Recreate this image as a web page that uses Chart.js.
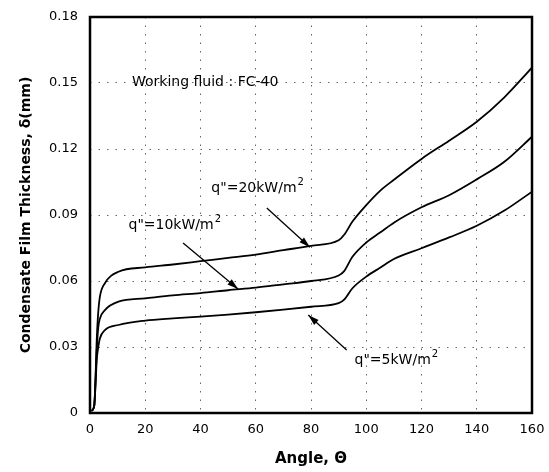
<!DOCTYPE html>
<html>
<head>
<meta charset="utf-8">
<script src="https://cdn.jsdelivr.net/npm/chart.js@4"></script>
<style>
  html, body { margin: 0; padding: 0; background: #fff; }
  #wrap { width: 549px; height: 472px; }
</style>
</head>
<body>
<div id="wrap"><canvas id="filmChart" width="549" height="472"></canvas></div>
<script>
const angles = [0.5, 1.5, 2.5, 3, 3.6, 5.4, 10.3, 20, 30, 40, 50, 60, 70, 80, 90, 92, 95, 100, 105, 110, 120, 130, 140, 150, 160];
const q20 = [0.001, 0.003, 0.035, 0.046, 0.053, 0.059, 0.0642, 0.0662, 0.0675, 0.069, 0.0705, 0.072, 0.074, 0.076, 0.0785, 0.081, 0.087, 0.0945, 0.101, 0.106, 0.1155, 0.1238, 0.1324, 0.1435, 0.157];
const q10 = [0.001, 0.003, 0.03, 0.039, 0.043, 0.0468, 0.0506, 0.0521, 0.0535, 0.0545, 0.0558, 0.057, 0.0585, 0.060, 0.0625, 0.0645, 0.071, 0.0775, 0.082, 0.0865, 0.0935, 0.099, 0.1062, 0.1142, 0.1256];
const q5 = [0.001, 0.003, 0.025, 0.030, 0.034, 0.0377, 0.040, 0.042, 0.043, 0.0438, 0.0447, 0.0458, 0.047, 0.0483, 0.0499, 0.0515, 0.0567, 0.062, 0.066, 0.070, 0.0749, 0.0798, 0.0851, 0.092, 0.1006];
const xTicks = [0, 20, 40, 60, 80, 100, 120, 140, 160];
const yTicks = [0, 0.03, 0.06, 0.09, 0.12, 0.15, 0.18];

const pts = ys => angles.map((a, i) => ({ x: a, y: ys[i] }));

const font = '"DejaVu Sans", sans-serif';

// labels + arrows, positions in data units
const notes = [
  { text: 'q"=20kW/m', x: 60.8, y: 0.1023, from: [64, 0.0932], to: [79.6, 0.0753] },
  { text: 'q"=10kW/m', x: 30.8, y: 0.0852, from: [33.7, 0.0773], to: [53.6, 0.0564] },
  { text: 'q"=5kW/m', x: 111, y: 0.0241, from: [92.9, 0.0286], to: [79, 0.0445] }
];

const extras = {
  id: 'extras',
  afterDatasetsDraw(chart) {
    const { ctx, chartArea: a, scales: { x, y } } = chart;
    ctx.save();
    // frame
    ctx.strokeStyle = '#000';
    ctx.lineWidth = 2.5;
    ctx.strokeRect(a.left, a.top, a.right - a.left, a.bottom - a.top);

    ctx.fillStyle = '#000';
    ctx.textBaseline = 'middle';
    ctx.font = '14px ' + font;
    ctx.textAlign = 'left';
    ctx.fillText('Working fluid : FC-40', x.getPixelForValue(15.2), y.getPixelForValue(0.1505));

    notes.forEach(n => {
      ctx.font = '14px ' + font;
      const w = ctx.measureText(n.text).width;
      const cx = x.getPixelForValue(n.x), cy = y.getPixelForValue(n.y);
      ctx.textAlign = 'left';
      ctx.fillText(n.text, cx - w / 2 - 4, cy);
      ctx.font = '10px ' + font;
      ctx.fillText('2', cx + w / 2 - 3, cy - 6);

      const x1 = x.getPixelForValue(n.from[0]), y1 = y.getPixelForValue(n.from[1]);
      const x2 = x.getPixelForValue(n.to[0]), y2 = y.getPixelForValue(n.to[1]);
      ctx.lineWidth = 1.3;
      ctx.beginPath();
      ctx.moveTo(x1, y1);
      ctx.lineTo(x2, y2);
      ctx.stroke();
      const ang = Math.atan2(y2 - y1, x2 - x1);
      const L = 11, W = 3.3;
      ctx.beginPath();
      ctx.moveTo(x2, y2);
      ctx.lineTo(x2 - L * Math.cos(ang) + W * Math.sin(ang), y2 - L * Math.sin(ang) - W * Math.cos(ang));
      ctx.lineTo(x2 - L * Math.cos(ang) - W * Math.sin(ang), y2 - L * Math.sin(ang) + W * Math.cos(ang));
      ctx.closePath();
      ctx.fill();
    });
    ctx.restore();
  }
};

const line = d => ({
  data: pts(d),
  borderColor: '#000',
  borderWidth: 1.8,
  pointRadius: 0,
  cubicInterpolationMode: 'monotone',
  fill: false
});

const gridStyle = { color: '#666', lineWidth: 1, drawTicks: false };

new Chart(document.getElementById('filmChart'), {
  type: 'line',
  data: { datasets: [line(q20), line(q10), line(q5)] },
  options: {
    responsive: false,
    animation: false,
    layout: { padding: { top: 17, right: 17, left: 0, bottom: 0 } },
    plugins: { legend: { display: false }, tooltip: { enabled: false } },
    scales: {
      x: {
        type: 'linear',
        min: 0,
        max: 160,
        afterBuildTicks: s => { s.ticks = xTicks.map(v => ({ value: v })); },
        afterFit: s => { s.height = 59; s.paddingLeft = 0; s.paddingRight = 0; },
        ticks: { color: '#000', font: { family: font, size: 13 }, padding: 9, maxRotation: 0 },
        grid: gridStyle,
        border: { display: false, dash: [1.5, 7] },
        title: { display: true, text: 'Angle, \u0398', color: '#000', font: { family: font, size: 15, weight: 'bold' }, padding: { top: 10 } }
      },
      y: {
        min: 0,
        max: 0.18,
        afterBuildTicks: s => { s.ticks = yTicks.map(v => ({ value: v })); },
        afterFit: s => { s.width = 90; s.paddingTop = 0; s.paddingBottom = 0; },
        ticks: {
          color: '#000',
          font: { family: font, size: 13 },
          padding: 12,
          callback: v => v === 0 ? '0' : v.toFixed(2)
        },
        grid: gridStyle,
        border: { display: false, dash: [1.5, 7] },
        title: { display: true, text: 'Condensate Film Thickness, \u03b4(mm)', color: '#000', font: { family: font, size: 14, weight: 'bold' }, padding: { top: 18, bottom: 0 } }
      }
    }
  },
  plugins: [extras]
});
</script>
</body>
</html>
